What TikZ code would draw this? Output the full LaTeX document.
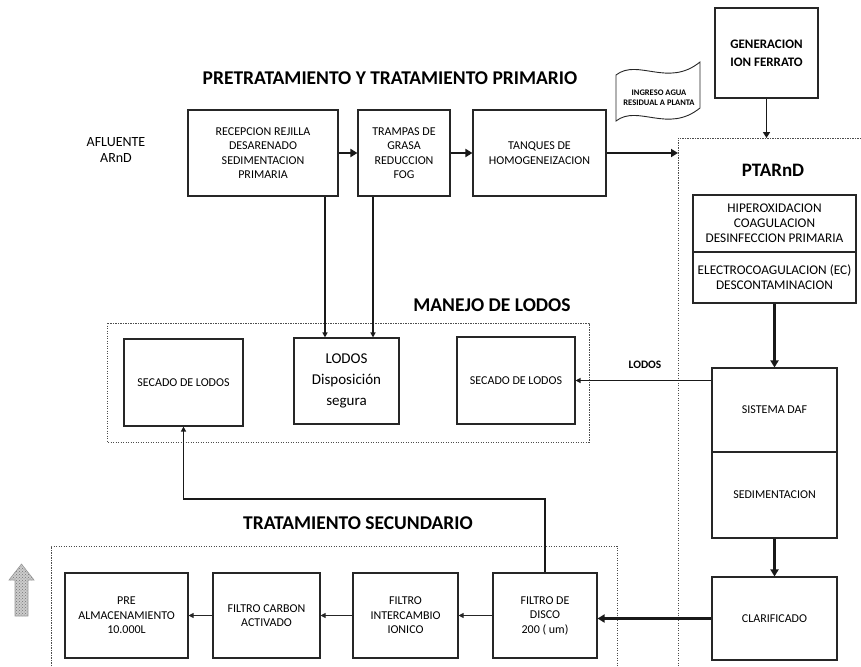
\documentclass[tikz,border=0pt]{standalone}
\usepackage{fontspec}
\setmainfont{Carlito}
\usetikzlibrary{arrows.meta,patterns}
\begin{document}
\begin{tikzpicture}[x=1pt,y=-1pt,
  box/.style={draw=black!85, line width=1.1pt, align=center, inner sep=2pt,
    font=\fontsize{12}{14.5}\selectfont},
  zone/.style={draw=black!70, line width=0.7pt, dash pattern=on 1.2pt off 1.3pt},
  heading/.style={font=\fontsize{19.5}{22}\selectfont\bfseries, inner sep=0pt},
  flow/.style={draw=black!90, line width=2.4pt, -{Triangle[length=7pt,width=8pt]}},
  link/.style={draw=black!90, line width=1.3pt, -{Triangle[length=5pt,width=5pt]}},
  thinlink/.style={draw=black!85, line width=1pt, -{Triangle[length=5pt,width=5pt]}}
]
\useasboundingbox (0,0) rectangle (861,666);

% helper coordinates
\coordinate (ptop) at (0,138);
\coordinate (pleft) at (678,0);
\coordinate (ret) at (0,499);
\coordinate (drop1) at (325,0);
\coordinate (drop2) at (373,0);

% zones
\draw[zone] (861,138) -- (678,138) -- (678,666);
\draw[zone] (107,323) rectangle (589,442);
\draw[zone] (51,666) -- (51,546) -- (617,546) -- (617,666);

% headings
\node[heading] (hpre) at (390,78) {PRETRATAMIENTO Y TRATAMIENTO PRIMARIO};
\node[heading] (hlod) at (492,305) {MANEJO DE LODOS};
\node[heading] (hsec) at (358,523) {TRATAMIENTO SECUNDARIO};
\node[font=\fontsize{19}{22}\selectfont\bfseries, inner sep=0pt] (hptar) at (773,170) {PTARnD};

\node[align=center, font=\fontsize{14}{16}\selectfont] (afl) at (116,150) {AFLUENTE\\ARnD};

% pretreatment line
\node[box, minimum width=150pt, minimum height=86pt] (rec) at (263,153)
  {RECEPCION REJILLA\\DESARENADO\\SEDIMENTACION\\PRIMARIA};
\node[box, minimum width=92pt, minimum height=86pt] (tra) at (404,153)
  {TRAMPAS DE\\GRASA\\REDUCCION\\FOG};
\node[box, minimum width=133pt, minimum height=86pt] (tan) at (539.5,153)
  {TANQUES DE\\HOMOGENEIZACION};

% incoming water flag
\draw[draw=black!85, line width=0.9pt, fill=white] (616,75)
  .. controls (638,58) and (668,88) .. (700,62) -- (700,108)
  .. controls (668,134) and (638,104) .. (616,121) -- cycle;
\node[align=center, font=\fontsize{8.5}{10}\selectfont\bfseries, inner sep=0pt] (flagtxt) at (659,98)
  {INGRESO AGUA\\RESIDUAL A PLANTA};

% ferrate generation
\node[box, minimum width=103pt, minimum height=90pt, font=\fontsize{13}{18}\selectfont\bfseries] (gen) at (766.5,53)
  {GENERACION\\ION FERRATO};

% PTARnD column
\node[box, minimum width=163pt, minimum height=57pt, font=\fontsize{13.3}{15}\selectfont] (hip1) at (774.5,223.5)
  {HIPEROXIDACION\\COAGULACION\\DESINFECCION PRIMARIA};
\node[box, minimum width=163pt, minimum height=51pt, font=\fontsize{13.3}{15}\selectfont] (hip2) at (774.5,277.5)
  {ELECTROCOAGULACION (EC)\\DESCONTAMINACION};
\node[box, minimum width=125pt, minimum height=84pt] (daf) at (774.5,410) {SISTEMA DAF};
\node[box, minimum width=125pt, minimum height=86pt] (sed) at (774.5,495) {SEDIMENTACION};
\node[box, minimum width=125pt, minimum height=83pt] (clar) at (774.5,618.5) {CLARIFICADO};

% sludge handling
\node[box, minimum width=119pt, minimum height=87pt] (secL) at (183.5,382.5) {SECADO DE LODOS};
\node[box, minimum width=105pt, minimum height=86pt, font=\fontsize{15}{21}\selectfont] (lod) at (346.5,381)
  {LODOS\\Disposición\\segura};
\node[box, minimum width=118pt, minimum height=87pt] (secR) at (516,380.5) {SECADO DE LODOS};

% secondary treatment
\node[box, minimum width=104pt, minimum height=85pt] (disco) at (545,615.5) {FILTRO DE\\DISCO\\200 ( um)};
\node[box, minimum width=105pt, minimum height=85pt] (ion) at (405.5,615.5) {FILTRO\\INTERCAMBIO\\IONICO};
\node[box, minimum width=107pt, minimum height=85pt] (carb) at (266.5,615.5) {FILTRO CARBON\\ACTIVADO};
\node[box, minimum width=123pt, minimum height=85pt] (pre) at (126.5,615.5) {PRE\\ALMACENAMIENTO\\10.000L};

% outflow arrow (grainy grey)
\fill[gray!40] (15,616) -- (15,580) -- (9,580) -- (21.5,564) -- (34,580) -- (28,580) -- (28,616) -- cycle;
\fill[pattern=crosshatch dots, pattern color=gray!90!black]
  (15,616) -- (15,580) -- (9,580) -- (21.5,564) -- (34,580) -- (28,580) -- (28,616) -- cycle;
\draw[gray!80, line width=0.6pt]
  (15,616) -- (15,580) -- (9,580) -- (21.5,564) -- (34,580) -- (28,580) -- (28,616) -- cycle;

% main flow
\draw[flow] (rec) -- (tra);
\draw[flow] (tra) -- (tan);
\draw[flow] (tan.east) -- (tan.east -| pleft);
\draw[draw=black!90, line width=1.9pt, -{Triangle[length=6pt,width=7pt]}] (gen.south) -- (gen.south |- ptop);
\draw[flow] (hip2.south) -- (daf.north);
\draw[flow] (sed.south) -- (clar.north);
\draw[flow] (clar.west) -- (clar.west -| disco.east);

% sludge lines
\draw[link] (rec.south -| drop1) -- (lod.north -| drop1);
\draw[link] (tra.south -| drop2) -- (lod.north -| drop2);
\draw[link] (secR.east -| daf.west) -- (secR.east);
\node[font=\fontsize{11.4}{13}\selectfont\bfseries, inner sep=0pt] (lodlbl) at (645,365) {LODOS};
\draw[link] (disco.north) |- (secL.south |- ret) -- (secL.south);

% secondary chain
\draw[thinlink] (disco.west) -- (ion.east);
\draw[thinlink] (ion.west) -- (carb.east);
\draw[thinlink] (carb.west) -- (pre.east);
\end{tikzpicture}
\end{document}
